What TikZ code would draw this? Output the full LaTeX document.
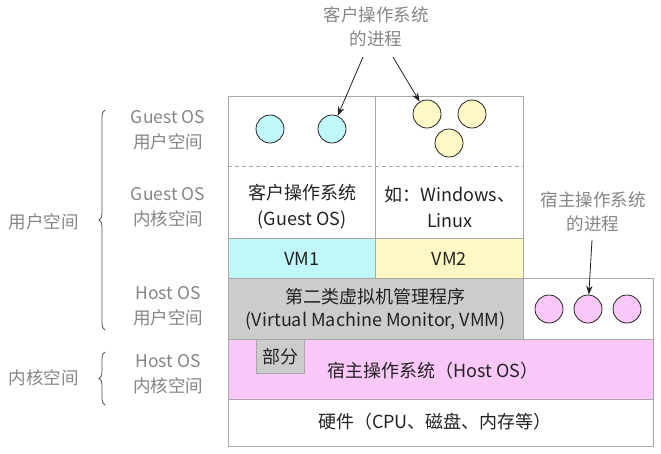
\documentclass[tikz,border=0pt]{standalone}
\usepackage{fontspec}
\setmainfont{Noto Sans CJK SC}
\usetikzlibrary{arrows.meta,decorations.pathreplacing}
\definecolor{cyanf}{HTML}{C0F7F8}
\definecolor{yelf}{HTML}{FFF8C4}
\definecolor{pinkf}{HTML}{F9C8F8}
\definecolor{grayf}{HTML}{CCCCCC}
\definecolor{lineg}{HTML}{A8A8A8}
\definecolor{txt}{HTML}{222222}
\definecolor{lbl}{HTML}{858585}
\definecolor{brc}{HTML}{555555}
\begin{document}
\begin{tikzpicture}[x=1pt,y=-1pt,
  region/.style={draw=lineg, line width=0.9pt, inner sep=0pt, anchor=north west, font=\fontsize{18}{23}\selectfont, text=txt, align=center},
  maintext/.style={inner sep=0pt, font=\fontsize{18}{26}\selectfont, text=txt, align=center},
  sidetext/.style={inner sep=0pt, font=\fontsize{17.5}{24.5}\selectfont, text=lbl, align=center},
  proc/.style={circle, draw=txt, line width=0.8pt, minimum size=28pt, inner sep=0pt},
  pointer/.style={-{Stealth[length=9pt,width=6.5pt]}, line width=0.8pt, draw=txt},
  curly/.style={decorate, decoration={brace, amplitude=6pt}, line width=0.8pt, draw=brc}]
\useasboundingbox (0,0) rectangle (661,453);
% regions
\node[region, minimum width=147.5pt, minimum height=142pt] (gL) at (227.5,96) {};
\node[region, minimum width=148pt, minimum height=142pt] (gR) at (375,96) {};
\node[region, fill=cyanf, minimum width=147.5pt, minimum height=40pt] (vm1) at (227.5,238) {VM1};
\node[region, fill=yelf, minimum width=148pt, minimum height=40pt] (vm2) at (375,238) {VM2};
\node[region, fill=grayf, minimum width=295.5pt, minimum height=61pt] (vmm) at (227.5,278) {第二类虚拟机管理程序\\(Virtual Machine Monitor, VMM)};
\node[region, minimum width=130pt, minimum height=61pt] (hp) at (523,278) {};
\node[region, fill=pinkf, minimum width=425.5pt, minimum height=60pt] (host) at (227.5,339) {};
\node[region, minimum width=425.5pt, minimum height=47pt] (hw) at (227.5,399) {};
\node[region, fill=grayf, minimum width=48pt, minimum height=34pt] (part) at (256,339) {部分};
% dashed separator
\coordinate (dl) at (227.5,166);
\coordinate (dr) at (523,166);
\draw[lineg, line width=0.9pt, dash pattern=on 4pt off 3pt] (dl) -- (dr);
% texts in regions
\node[maintext] (gos) at (302,207) {客户操作系统\\(Guest OS)};
\node[maintext] (win) at (450,207) {如：Windows、\\Linux};
\node[maintext] (hostt) at (433,371) {宿主操作系统（Host OS）};
\node[maintext] (hwt) at (435,422) {硬件（CPU、磁盘、内存等）};
% processes
\node[proc, fill=cyanf] (c1) at (270,129) {};
\node[proc, fill=cyanf] (c2) at (332,129) {};
\node[proc, fill=yelf] (y1) at (427,114) {};
\node[proc, fill=yelf] (y2) at (472,114) {};
\node[proc, fill=yelf] (y3) at (449,143) {};
\node[proc, fill=pinkf] (p1) at (549,309) {};
\node[proc, fill=pinkf] (p2) at (588,309) {};
\node[proc, fill=pinkf] (p3) at (627,309) {};
% annotations
\node[sidetext] (gproc) at (376,27) {客户操作系统\\的进程};
\node[sidetext] (hproc) at (593,212) {宿主操作系统\\的进程};
\coordinate (a1) at (363,57);
\coordinate (a2) at (393,57);
\coordinate (a3) at (592,240);
\draw[pointer] (a1) -- (c2);
\draw[pointer] (a2) -- (y1);
\draw[pointer] (a3) -- (p2);
% left labels
\node[sidetext] (l1) at (168,130) {Guest OS\\用户空间};
\node[sidetext] (l2) at (168,207) {Guest OS\\内核空间};
\node[sidetext] (l3) at (168,306) {Host OS\\用户空间};
\node[sidetext] (l4) at (168,374) {Host OS\\内核空间};
\node[sidetext] (u) at (44,222) {用户空间};
\node[sidetext] (k) at (44,378) {内核空间};
\coordinate (b1s) at (105,330);
\coordinate (b1e) at (105,110);
\coordinate (b2s) at (105,405);
\coordinate (b2e) at (105,352);
\draw[curly] (b1s) -- (b1e);
\draw[curly] (b2s) -- (b2e);
\end{tikzpicture}
\end{document}
